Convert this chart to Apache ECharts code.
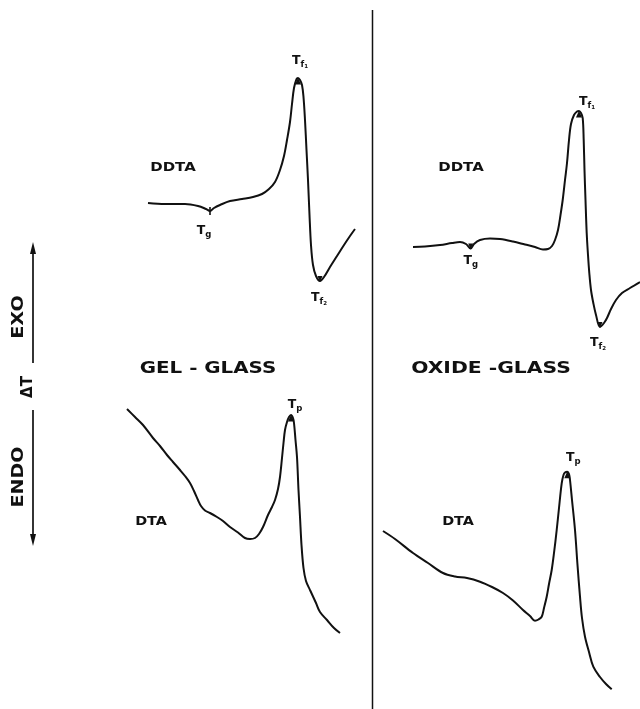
<!DOCTYPE html>
<html>
<head>
<meta charset="utf-8">
<script src="https://cdn.jsdelivr.net/npm/echarts@6.0.0/dist/echarts.min.js"></script>
<style>
html,body{margin:0;padding:0;background:#fff;}
#chart{width:640px;height:709px;}
</style>
</head>
<body>
<div id="chart"></div>
<script>
// ---- Data (arbitrary units: x = temperature scale, y = signal, up = EXO) ----
const gelDDTA = [[48,506],[65,505],[85,505],[98,503],[106,500],[110,498],[114,501],[120,504],[130,508],[142,510],[153,512],[162,515],[169,520],[175,527],[180,539],[184,553],[187,569],[190,587],[192,605],[194,621],[196.5,630],[198,631],[200,629],[202,624],[203.5,612],[205,589],[206.5,559],[208,529],[209.5,494],[211,464],[213,444],[216,433],[220,428],[224,432],[230,442],[237,453],[244,464],[250,473],[255,480]];
const gelDTA = [[27,300],[35,292],[43,284],[53,271],[60,263],[67,254],[73,247],[80,239],[85,233],[90,226],[94,218],[98,209],[101,203],[105,198.5],[110,196],[117,192],[123,188],[130,182],[138,176.5],[145,171],[150,170],[155,171],[159,175],[163,182],[168,194],[172,202],[175,209],[178,220],[180,232],[182,251],[183.5,266],[185,279],[187,287],[189,292],[191,294],[193,291],[194,286],[195.5,269],[197,252],[198.5,219],[200,192],[201.5,164],[203.5,141],[206,128],[210,119],[216,106],[220,97],[227,89],[234,81],[240,76]];
const oxideDDTA = [[41,462],[53,462.5],[68,464],[80,466],[88,467],[94,465],[98.7,460.5],[102,465],[108,469],[118,470.5],[128,470],[141,467.5],[153,464.5],[163,462],[171,459.5],[176,460],[180,463],[183,469],[186,479],[188.5,494],[190.7,509],[193,529],[195,546],[197,569],[199,585],[202,594],[205,597.5],[207,598],[209,596],[210.7,591],[211.7,569],[212.5,539],[213.5,509],[214.7,476],[216,454],[217.3,436],[219,419],[221.3,406],[224,394],[228,382],[232,386],[235,391],[239,400],[244,409],[250,416],[258,421],[268,427]];
const oxideDTA = [[11,178],[23,170],[41,156],[56,146],[71,136],[83,132.5],[95,131],[108,127.3],[120,122],[131,116],[141,108.5],[151,99],[158,93],[163,88.3],[166.5,89.5],[169.7,92.3],[172,101],[174.7,112.3],[177,125],[179.7,139],[182,156],[184.7,179],[187,201],[189.7,225.7],[191.5,234],[193,236.5],[195.3,237.3],[197,235],[198,229],[200,209],[203,179],[205.5,144],[208,112.3],[210,91],[213,72.3],[217,57],[221.3,42.3],[228,32],[234,25],[239.7,19.7]];

// characteristic temperatures: [name, index of data point]
const gelDDTAMarks = [['Tg',5],['Tf1',21],['Tf2',32]];
const gelDTAMarks = [['Tp',34]];
const oxideDDTAMarks = [['Tg',6],['Tf1',27],['Tf2',39]];
const oxideDTAMarks = [['Tp',26]];

// text labels
const panelTitles = ['GEL - GLASS','OXIDE -GLASS'];
const curveNames = ['DDTA','DTA'];
const axisWords = ['EXO','\u0394T','ENDO'];

// ---- Styles / layout ----
const INK = '#111';
const FONT = '"DejaVu Sans", "Liberation Sans", sans-serif';
const markFormat = {
  Tg: '{t|T}{s|g}',
  Tf1: '{t|T}{s|f}{ss|1}',
  Tf2: '{t|T}{s|f}{ss|2}',
  Tp: '{t|T}{s|p}'
};
const markStyle = {
  gelDDTA: {Tg:{off:[-6,21],sym:'tick'}, Tf1:{off:[2,-16],sym:'up'}, Tf2:{off:[-1,18],sym:'down'}},
  gelDTA: {Tp:{off:[4,-9],sym:'up'}},
  oxideDDTA: {Tg:{off:[0,14],sym:'down'}, Tf1:{off:[8,-8],sym:'up'}, Tf2:{off:[-2,17],sym:'down'}},
  oxideDTA: {Tp:{off:[6,-12],sym:'up'}}
};
const rich = {
  t: {fontFamily: FONT, fontWeight: 'bold', fontSize: 12.5, color: INK, verticalAlign:'top', lineHeight: 16},
  s: {fontFamily: FONT, fontWeight: 'bold', fontSize: 8.5, color: INK, verticalAlign:'top', lineHeight: 16, padding:[6,0,0,0]},
  ss: {fontFamily: FONT, fontWeight: 'bold', fontSize: 5.5, color: INK, verticalAlign:'top', lineHeight: 16, padding:[10,0,0,0]}
};

function buildMarks(data, marks, key) {
  return marks.map(function (m) {
    const st = markStyle[key][m[0]];
    let symbol, size, rotate = 0, soff = [0,0];
    if (st.sym === 'up') { symbol = 'triangle'; size = [6,7]; soff = [0,3]; }
    else if (st.sym === 'down') { symbol = 'triangle'; size = [5,6]; rotate = 180; soff = [0,-2]; }
    else { symbol = 'rect'; size = [1.6,8]; soff = [0,0]; }
    return {
      coord: data[m[1]],
      symbol: symbol, symbolSize: size, symbolRotate: rotate, symbolOffset: soff,
      itemStyle: {color: INK},
      label: {
        show: true, position: 'inside',
        offset: [st.off[0]-soff[0], st.off[1]-soff[1]],
        formatter: markFormat[m[0]], rich: rich
      }
    };
  });
}

function lineSeries(data, gridIdx, marks, key) {
  return {
    type: 'line', xAxisIndex: gridIdx, yAxisIndex: gridIdx,
    data: data, showSymbol: false, symbol: 'none', smooth: 0.35, clip: false,
    lineStyle: {color: INK, width: 2},
    markPoint: {data: buildMarks(data, marks, key), animation: false}
  };
}

function txt(text, x, y, size, sx, rot) {
  return {
    type: 'text', x: x, y: y, scaleX: sx || 1, rotation: rot || 0, silent: true,
    style: {text: text, x: 0, y: 0, fill: INK, font: 'bold ' + size + 'px ' + FONT,
            align: 'center', verticalAlign: 'middle', textAlign: 'center', textVerticalAlign: 'middle'}
  };
}

const chart = echarts.init(document.getElementById('chart'), null, {renderer: 'canvas'});
const option = {
  animation: false,
  backgroundColor: '#fff',
  grid: [
    {left: 100, top: 0, width: 272, height: 709, outerBoundsMode: 'none', containLabel: false},
    {left: 372, top: 0, width: 268, height: 709, outerBoundsMode: 'none', containLabel: false}
  ],
  xAxis: [
    {type: 'value', gridIndex: 0, min: 0, max: 272, show: false},
    {type: 'value', gridIndex: 1, min: 0, max: 268, show: false}
  ],
  yAxis: [
    {type: 'value', gridIndex: 0, min: 0, max: 709, show: false},
    {type: 'value', gridIndex: 1, min: 0, max: 709, show: false}
  ],
  series: [
    lineSeries(gelDDTA, 0, gelDDTAMarks, 'gelDDTA'),
    lineSeries(gelDTA, 0, gelDTAMarks, 'gelDTA'),
    lineSeries(oxideDDTA, 1, oxideDDTAMarks, 'oxideDDTA'),
    lineSeries(oxideDTA, 1, oxideDTAMarks, 'oxideDTA')
  ],
  graphic: [
    // panel divider
    {type: 'line', silent: true, shape: {x1: 372.5, y1: 10, x2: 372.5, y2: 709}, style: {stroke: INK, lineWidth: 1.5}},
    // ΔT arrow
    {type: 'line', silent: true, shape: {x1: 33, y1: 248, x2: 33, y2: 363}, style: {stroke: INK, lineWidth: 1.7}},
    {type: 'line', silent: true, shape: {x1: 33, y1: 410, x2: 33, y2: 540}, style: {stroke: INK, lineWidth: 1.7}},
    {type: 'polygon', silent: true, shape: {points: [[33,242],[30,254],[36,254]]}, style: {fill: INK}},
    {type: 'polygon', silent: true, shape: {points: [[33,546],[30,534],[36,534]]}, style: {fill: INK}},
    txt(axisWords[0], 19, 317, 16, 1.2, Math.PI/2),
    txt(axisWords[1], 28, 387, 15, 1.0, Math.PI/2),
    txt(axisWords[2], 19, 477, 16, 1.19, Math.PI/2),
    // panel titles
    txt(panelTitles[0], 208, 369, 16, 1.24, 0),
    txt(panelTitles[1], 491, 369, 16, 1.27, 0),
    // curve names
    txt(curveNames[0], 173, 168, 13, 1.15, 0),
    txt(curveNames[0], 461, 168, 13, 1.15, 0),
    txt(curveNames[1], 151, 522, 12.5, 1.15, 0),
    txt(curveNames[1], 458, 522, 12.5, 1.15, 0)
  ]
};
chart.setOption(option);
</script>
</body>
</html>
